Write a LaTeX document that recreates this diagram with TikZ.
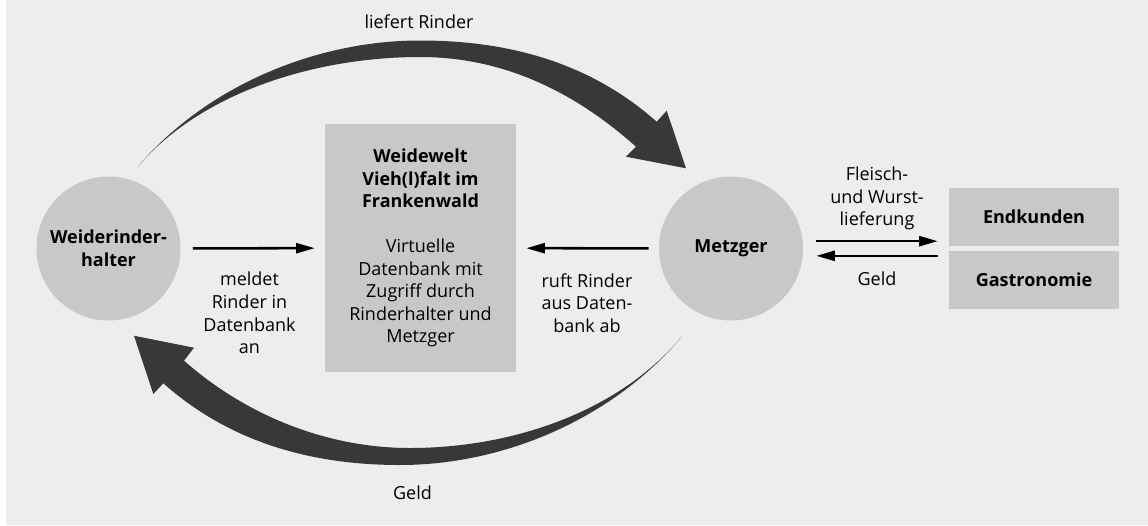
\documentclass[tikz,border=0pt]{standalone}
\usepackage{fontspec}
\setmainfont{Open Sans}
\usetikzlibrary{arrows.meta}
\definecolor{hintergrund}{RGB}{237,237,237}
\definecolor{flaeche}{RGB}{200,200,200}
\definecolor{bandgrau}{RGB}{56,56,56}

\begin{document}
\begin{tikzpicture}[x=0.75pt,y=0.75pt,yscale=-1,xscale=1,
  every node/.style={font=\fontsize{13.5}{16.9}\selectfont, inner sep=0.75pt, align=center},
  kreis/.style={circle, fill=flaeche, minimum size=108pt, font=\fontsize{13.5}{16.9}\selectfont\bfseries},
  kasten/.style={rectangle, fill=flaeche},
  pfeil/.style={line width=1.9pt, -{Triangle[length=14pt,width=7.5pt]}},
  band/.style={fill=bandgrau}]
\useasboundingbox (0,0) rectangle (1148,525);
%Background
\fill [hintergrund] (6,0) rectangle (1148,525);

%Shape: Circle
\node [kreis] (halter) at (108.5,248.5) {Weiderinder-\\halter};
%Shape: Circle
\node [kreis] (metzger) at (731,248.5) {Metzger};
%Shape: Rectangle
\node [kasten, minimum width=143.25pt, minimum height=186pt] (datenbank) at (420.5,248) {\textbf{Weidewelt}\\\textbf{Vieh(l)falt im}\\\textbf{Frankenwald}\\[16.9pt]Virtuelle\\Datenbank mit\\Zugriff durch\\Rinderhalter und\\Metzger};
%Shape: Rectangle
\node [kasten, minimum width=127.5pt, minimum height=43.5pt, font=\fontsize{13.5}{16.9}\selectfont\bfseries] (endkunden) at (1034,217) {Endkunden};
%Shape: Rectangle
\node [kasten, minimum width=127.5pt, minimum height=43.5pt, font=\fontsize{13.5}{16.9}\selectfont\bfseries] (gastro) at (1034,280) {Gastronomie};

%Curve Lines: liefert Rinder
\fill [band] (138,166.5) .. controls (206,86.5) and (315,40.5) .. (420,40.5)
  .. controls (509,40.5) and (590,62.6) .. (656.7,121.7)
  -- (666.7,110.7) -- (686,168.3) -- (626,156.7) -- (636,146.7)
  .. controls (574,91.4) and (503,57) .. (420,57)
  .. controls (319,57) and (203,90.3) .. (138,166.5) -- cycle ;
%Curve Lines: Geld
\fill [band] (681.7,336.7) .. controls (614,417.5) and (505.5,465) .. (400,465)
  .. controls (311,465) and (230,442.3) .. (163.3,383.3)
  -- (153.3,394) -- (134,335.7) -- (194,347.7) -- (184,360.7)
  .. controls (246.3,415.6) and (327,448) .. (410,448)
  .. controls (510,448) and (617.4,413.3) .. (681.7,336.7) -- cycle ;

%Straight Lines
\draw [pfeil, shorten <=9pt, shorten >=7.5pt] (halter) -- (datenbank) ;
\draw [pfeil, shorten <=7.5pt, shorten >=7.5pt] (metzger) -- (datenbank) ;
\coordinate (hin) at ([yshift=-5.5pt]metzger.east) ;
\coordinate (rueck) at ([yshift=5.5pt]metzger.east) ;
\draw [pfeil, shorten <=9.75pt, shorten >=8.25pt] (hin) -- (hin -| endkunden.west) ;
\draw [pfeil, shorten <=8.25pt, shorten >=9.75pt] (rueck -| gastro.west) -- (rueck) ;

% Text Node
\node (liefert) at (419,22) {liefert Rinder};
% Text Node
\node (geldunten) at (412.5,492.5) {Geld};
% Text Node
\node (meldet) at (249.5,313) {meldet\\Rinder in\\Datenbank\\an};
% Text Node
\node (ruft) at (587,303) {ruft Rinder\\aus Daten-\\bank ab};
% Text Node
\node (lieferung) at (877,198.5) {Fleisch-\\und Wurst-\\lieferung};
% Text Node
\node (geldrechts) at (877,278.5) {Geld};

\end{tikzpicture}
\end{document}
